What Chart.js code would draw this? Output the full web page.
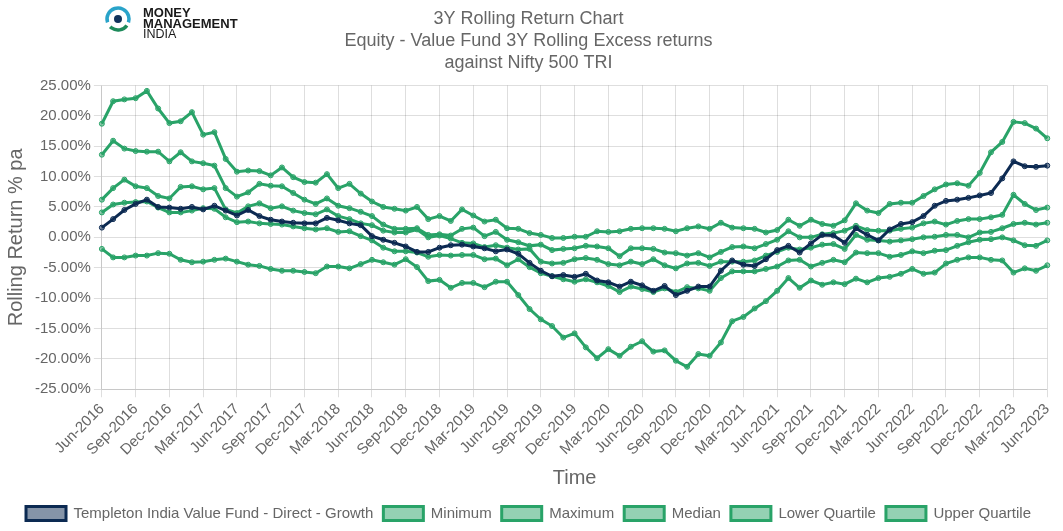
<!DOCTYPE html>
<html>
<head>
<meta charset="utf-8">
<script src="https://cdn.jsdelivr.net/npm/chart.js@4.4.0/dist/chart.umd.min.js"></script>
<style>
  html, body { margin: 0; padding: 0; background: #fff; }
  #wrap { width: 1063px; height: 531px; position: relative; }
</style>
</head>
<body>
<div id="wrap"><canvas id="chart"></canvas></div>
<script>
// monthly labels Jun-2016 .. Jun-2023
const monthNames = ['Jan','Feb','Mar','Apr','May','Jun','Jul','Aug','Sep','Oct','Nov','Dec'];
const months = [];
for (let y = 2016, m = 5; y < 2023 || (y === 2023 && m <= 5); m++) {
  if (m > 11) { m = 0; y++; }
  if (y === 2023 && m > 5) break;
  months.push(monthNames[m] + '-' + y);
}

const fundValues = [
  1.6, 3.0, 4.5, 5.5, 6.2, 5.0, 4.9, 4.7, 5.0, 4.6,
  5.2, 4.4, 3.6, 4.5, 3.5, 2.9, 2.6, 2.4, 2.3, 2.3,
  3.2, 2.8, 2.3, 2.0, 0.2, -0.4, -0.9, -1.5, -2.4, -2.4,
  -1.7, -1.3, -1.2, -1.5, -1.8, -2.3, -2.0, -2.7, -4.2, -5.5,
  -6.4, -6.2, -6.5, -6.0, -7.1, -7.4, -8.1, -7.3, -7.9, -8.8,
  -8.0, -9.5, -8.8, -8.1, -8.1, -5.5, -3.8, -4.5, -4.7, -3.6,
  -2.1, -1.4, -2.5, -1.0, 0.4, 0.3, -0.9, 1.5, 0.4, -0.5,
  1.3, 2.2, 2.5, 3.5, 5.2, 6.0, 6.2, 6.5, 6.9, 7.3,
  9.7, 12.5, 11.7, 11.6, 11.8
];
const minValues = [
  -1.9, -3.3, -3.3, -3.0, -3.0, -2.6, -2.7, -3.7, -4.1, -4.0,
  -3.7, -3.5, -4.0, -4.5, -4.7, -5.2, -5.5, -5.5, -5.7, -5.9,
  -4.8, -4.8, -5.1, -4.4, -3.7, -4.1, -4.5, -3.6, -4.9, -7.2,
  -7.0, -8.3, -7.5, -7.5, -8.2, -7.3, -7.3, -9.5, -11.8, -13.5,
  -14.6, -16.5, -15.8, -18.1, -19.9, -18.4, -19.5, -18.0, -17.1, -18.8,
  -18.6, -20.3, -21.3, -19.2, -19.5, -17.3, -13.8, -13.1, -11.7, -10.5,
  -8.8, -6.7, -8.3, -7.1, -7.8, -7.4, -7.7, -6.8, -7.4, -6.7,
  -6.5, -6.0, -5.2, -6.0, -5.8, -4.3, -3.7, -3.3, -3.3, -3.7,
  -3.8, -5.8, -5.1, -5.5, -4.6
];
const maxValues = [
  18.7, 22.4, 22.7, 22.9, 24.1, 21.2, 18.8, 19.1, 20.6, 16.9,
  17.3, 12.9, 10.8, 11.0, 10.9, 10.2, 11.5, 9.9, 9.1, 9.0,
  10.4, 8.1, 8.8, 7.2, 5.9, 5.0, 4.7, 4.4, 5.0, 3.0,
  3.5, 2.7, 4.6, 3.6, 2.6, 2.9, 1.5, 1.4, 0.7, 0.4,
  -0.1, -0.1, 0.1, 0.1, 1.0, 0.9, 1.0, 1.4, 1.5, 1.5,
  1.4, 1.0, 1.5, 1.8, 1.4, 2.4, 1.6, 1.5, 1.4, 0.8,
  1.2, 2.9, 1.9, 2.9, 2.2, 1.9, 2.8, 5.6, 4.4, 4.0,
  5.5, 5.7, 5.7, 6.8, 7.9, 8.7, 8.9, 8.5, 10.6, 14.0,
  15.7, 19.0, 18.8, 17.9, 16.3
];
const medianValues = [
  6.2, 8.1, 9.5, 8.4, 8.1, 6.8, 6.4, 8.3, 8.4, 7.9,
  8.1, 4.6, 4.0, 5.1, 5.6, 4.8, 5.1, 4.4, 4.0, 3.8,
  4.6, 3.5, 3.0, 2.3, 2.0, 1.1, 0.8, 0.8, 1.3, 0.0,
  0.3, -0.2, -0.9, -1.0, -1.6, -1.3, -1.7, -2.0, -1.9, -4.0,
  -4.3, -4.2, -3.6, -3.4, -3.7, -4.4, -4.6, -4.0, -4.4, -3.6,
  -4.6, -5.1, -4.3, -4.2, -4.7, -4.0, -4.0, -4.0, -3.8, -3.0,
  -2.4, -1.7, -2.0, -1.7, -1.2, -1.1, -1.9, 0.4, -0.4, -0.5,
  -0.7, -0.5, -0.3, 0.0, 0.1, 0.4, 0.4, 0.0, 0.8, 0.9,
  1.5, 2.2, 2.4, 2.1, 2.4
];
const lowerQValues = [
  4.1, 5.4, 5.7, 5.8, 5.9, 4.9, 4.1, 4.1, 4.4, 4.8,
  4.7, 3.3, 2.5, 2.6, 2.3, 2.2, 2.1, 1.8, 1.5, 1.3,
  1.5, 0.9, 1.0, 0.2, -0.5, -1.7, -2.3, -2.3, -2.5, -3.2,
  -2.9, -3.0, -2.9, -2.9, -3.6, -3.5, -4.6, -3.6, -4.9, -5.9,
  -6.4, -6.9, -7.3, -6.9, -7.4, -8.0, -9.0, -8.1, -8.5, -9.0,
  -8.4, -9.0, -8.2, -8.4, -8.8, -6.7, -5.6, -5.6, -5.6, -5.2,
  -4.8, -3.8, -3.7, -4.8, -4.2, -3.7, -4.1, -2.5, -2.6, -2.6,
  -3.2, -2.9, -2.3, -2.6, -2.2, -2.1, -1.4, -0.8, -0.4, -0.3,
  0.0, -0.5, -1.3, -1.4, -0.5
];
const upperQValues = [
  13.6, 15.9, 14.6, 14.2, 14.1, 14.1, 12.5, 14.0, 12.5, 12.2,
  11.8, 8.1, 6.7, 7.4, 8.8, 8.5, 8.4, 7.3, 6.2, 5.5,
  6.4, 5.2, 4.8, 4.2, 3.5, 2.1, 1.4, 1.4, 1.5, 0.4,
  0.5, 0.3, 1.4, 1.6, 0.2, 0.9, -0.4, -0.8, -1.4, -1.2,
  -2.1, -1.9, -1.8, -1.4, -1.5, -1.8, -3.1, -1.8, -1.8, -1.9,
  -2.5, -2.6, -3.0, -2.6, -3.3, -2.4, -1.6, -1.5, -1.8, -1.1,
  -0.4, 1.0, 0.0, 0.0, 0.5, 0.7, 1.1, 1.9, 1.2, 1.1,
  1.1, 1.4, 1.6, 2.3, 2.6, 2.1, 2.7, 3.0, 3.0, 3.3,
  3.7, 7.0, 5.5, 4.5, 4.9
];

const titleLines = ['3Y Rolling Return Chart', 'Equity - Value Fund 3Y Rolling Excess returns', 'against Nifty 500 TRI'];
const navy = 'rgb(12,42,82)', navyFill = 'rgba(12,42,82,0.5)';
const green = 'rgb(41,163,104)', greenFill = 'rgba(41,163,104,0.5)';
const gridColor = 'rgba(0,0,0,0.13)';

function series(label, data, color, fill) {
  return {
    label, data,
    borderColor: color, backgroundColor: fill,
    borderWidth: 3, pointRadius: 2.5, pointBorderWidth: 1,
    pointBackgroundColor: fill, pointBorderColor: color,
    tension: 0, fill: false
  };
}

// logo in the top-left corner
const logo = {
  id: 'logo',
  afterDraw(chart) {
    const c = chart.ctx;
    c.save();
    c.lineWidth = 3.5;
    c.strokeStyle = '#29a3c9';
    c.beginPath(); c.arc(118, 19, 11, Math.PI * 0.9, Math.PI * 2.1); c.stroke();
    c.strokeStyle = '#1d8a5a';
    c.beginPath(); c.arc(118, 19, 11, Math.PI * 0.2, Math.PI * 0.75); c.stroke();
    c.fillStyle = '#12335c';
    c.beginPath(); c.arc(118, 19, 4, 0, Math.PI * 2); c.fill();
    c.fillStyle = '#1a1a1a';
    c.textBaseline = 'alphabetic';
    c.font = 'bold 13px "Liberation Sans", Arial, sans-serif';
    c.fillText('MONEY', 143, 17);
    c.fillText('MANAGEMENT', 143, 28);
    c.font = '12.5px "Liberation Sans", Arial, sans-serif';
    c.fillText('INDIA', 143, 38);
    c.restore();
  }
};

Chart.defaults.font.family = '"Liberation Sans", Arial, sans-serif';
Chart.defaults.color = '#666';

new Chart(document.getElementById('chart').getContext('2d'), {
  type: 'line',
  data: {
    labels: months,
    datasets: [
      series('Templeton India Value Fund - Direct - Growth', fundValues, navy, navyFill),
      series('Minimum', minValues, green, greenFill),
      series('Maximum', maxValues, green, greenFill),
      series('Median', medianValues, green, greenFill),
      series('Lower Quartile', lowerQValues, green, greenFill),
      series('Upper Quartile', upperQValues, green, greenFill)
    ]
  },
  options: {
    responsive: true, maintainAspectRatio: false, animation: false,
    layout: { padding: { right: 6, bottom: 0 } },
    plugins: {
      title: { display: true, text: titleLines, color: '#666', font: { size: 18, weight: 'normal', lineHeight: 1.23 }, padding: { top: 8, bottom: 11 } },
      legend: { position: 'bottom', labels: { color: '#666', font: { size: 15 }, boxWidth: 40, boxHeight: 14, padding: 10 } },
      tooltip: { enabled: false }
    },
    scales: {
      x: {
        title: { display: true, text: 'Time', color: '#666', font: { size: 20 }, padding: { top: 4, bottom: 6 } },
        ticks: {
          autoSkip: false, minRotation: 45, maxRotation: 45, color: '#666', font: { size: 15 },
          callback: (v, i) => i % 3 === 0 ? months[i] : ''
        },
        grid: {
          color: ctx => ctx.index % 3 === 0 ? gridColor : 'transparent',
          tickColor: ctx => ctx.index % 3 === 0 ? gridColor : 'transparent'
        }
      },
      y: {
        min: -25, max: 25,
        title: { display: true, text: 'Rolling Return % pa', color: '#666', font: { size: 20 } },
        ticks: { stepSize: 5, color: '#666', font: { size: 15 }, callback: v => v.toFixed(2) + '%' },
        grid: { color: gridColor }
      }
    }
  },
  plugins: [logo]
});
</script>
</body>
</html>
